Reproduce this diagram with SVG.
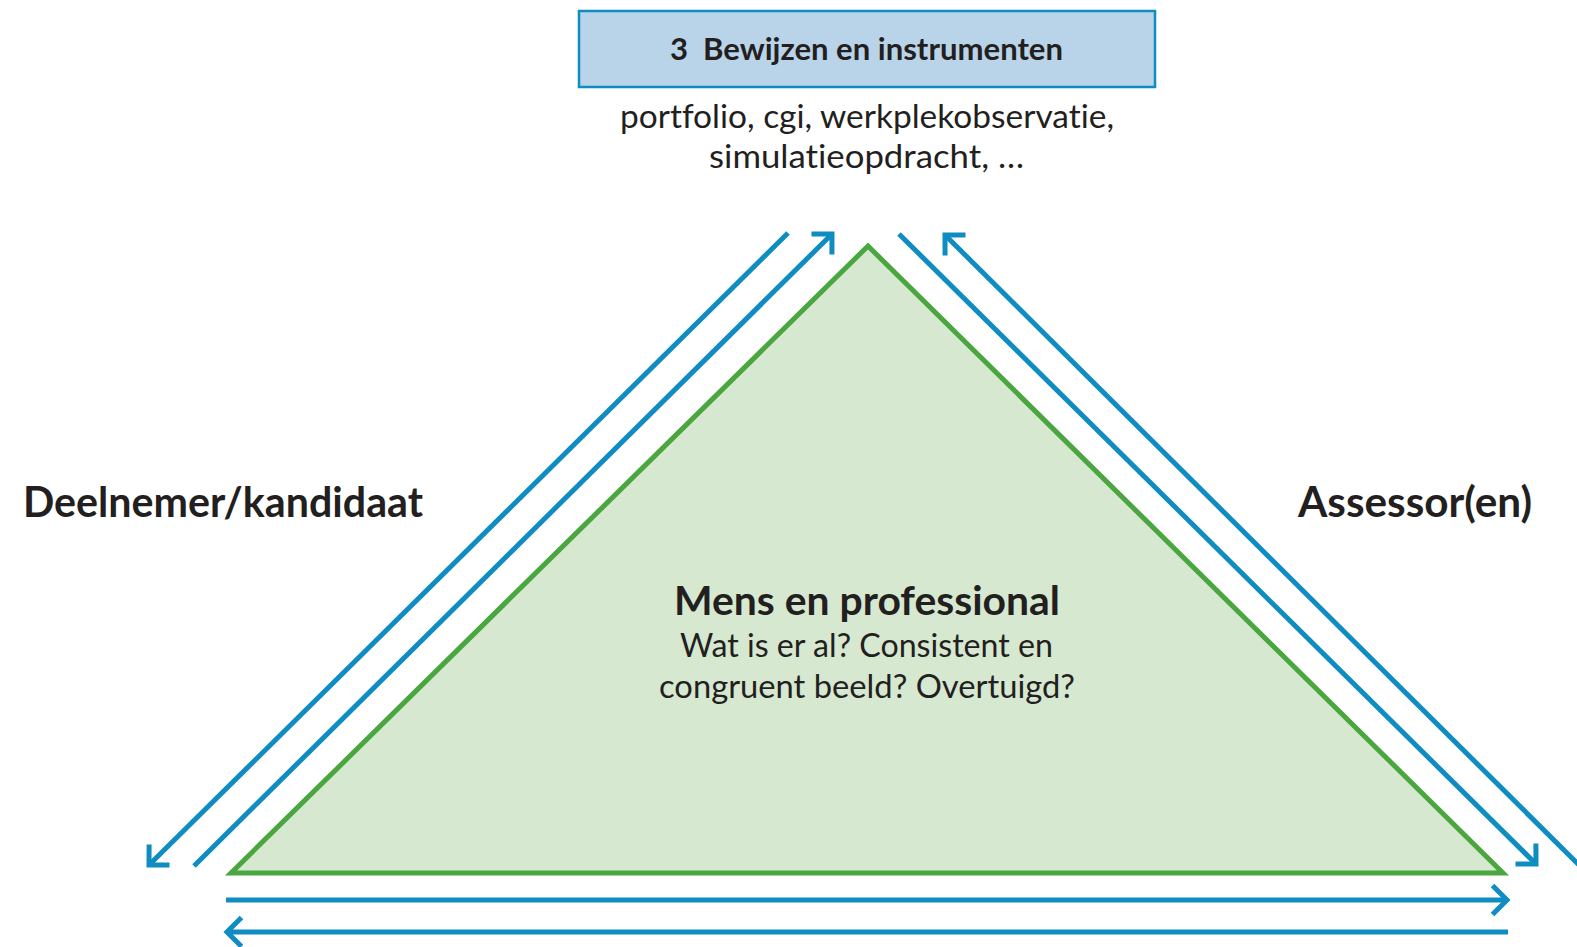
<svg xmlns="http://www.w3.org/2000/svg" width="1577" height="947" viewBox="0 0 1577 947">
<style>
text{font-family:Lato,"Noto Sans","Liberation Sans",sans-serif;fill:#231f20;text-anchor:start;font-variant-ligatures:none;font-feature-settings:"liga" 0}
.b{font-weight:bold}
.arr{stroke:#0f8cc1;stroke-width:5;fill:none}
</style>
<defs>
<marker id="ah" markerUnits="userSpaceOnUse" markerWidth="40" markerHeight="40" refX="0" refY="0" viewBox="-20 -20 40 40" orient="auto" overflow="visible">
<path d="M-14.5,-14.5 L0,0 L-14.5,14.5" fill="none" stroke="#0f8cc1" stroke-width="5" stroke-linejoin="miter"/>
</marker>
</defs>
<rect width="1577" height="947" fill="#ffffff"/>
<g id="node-evidence">
<rect x="579" y="11" width="576" height="76" fill="#b9d4e8" stroke="#0f8cc1" stroke-width="2.5"/>
<text class="b" x="670" y="60" font-size="30" textLength="393" lengthAdjust="spacingAndGlyphs" xml:space="preserve">3  Bewijzen en instrumenten</text>
<text x="620" y="128" font-size="32" textLength="494" lengthAdjust="spacingAndGlyphs">portfolio, cgi, werkplekobservatie,</text>
<text x="709" y="168" font-size="32" textLength="315" lengthAdjust="spacingAndGlyphs">simulatieopdracht, …</text>
</g>
<g id="node-triangle">
<polygon points="868,246 1503,873 231,873" fill="#d6e8d0" stroke="#4aa63f" stroke-width="5" stroke-linejoin="miter"/>
<text class="b" x="674" y="615" font-size="40" textLength="386" lengthAdjust="spacingAndGlyphs">Mens en professional</text>
<text x="680" y="657" font-size="33" textLength="373" lengthAdjust="spacingAndGlyphs">Wat is er al? Consistent en</text>
<text x="659" y="698" font-size="33" textLength="416" lengthAdjust="spacingAndGlyphs">congruent beeld? Overtuigd?</text>
</g>
<g id="node-candidate">
<text class="b" x="23" y="517" font-size="42" textLength="400" lengthAdjust="spacingAndGlyphs">Deelnemer/kandidaat</text>
</g>
<g id="node-assessor">
<text class="b" x="1298" y="517" font-size="42" textLength="234" lengthAdjust="spacingAndGlyphs">Assessor(en)</text>
</g>
<g id="connectors">
<line class="arr" x1="788" y1="233" x2="149" y2="865" marker-end="url(#ah)"/>
<line class="arr" x1="194" y1="866" x2="832" y2="234" marker-end="url(#ah)"/>
<line class="arr" x1="899" y1="234" x2="1536" y2="864" marker-end="url(#ah)"/>
<line class="arr" x1="1580" y1="866" x2="945" y2="235" marker-end="url(#ah)"/>
<line class="arr" x1="226" y1="900" x2="1507" y2="900" marker-end="url(#ah)"/>
<line class="arr" x1="1508" y1="932" x2="227" y2="932" marker-end="url(#ah)"/>
</g>
</svg>
